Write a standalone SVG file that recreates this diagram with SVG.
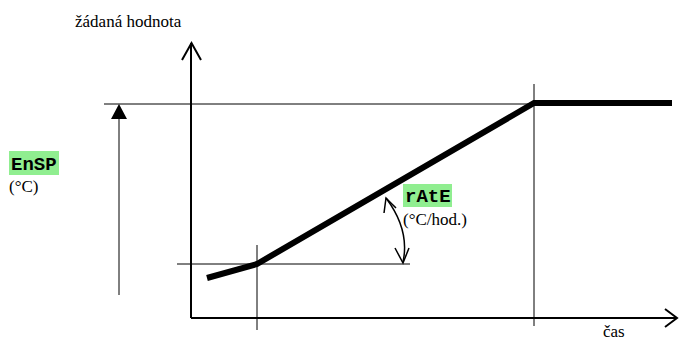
<svg xmlns="http://www.w3.org/2000/svg" width="680" height="340" viewBox="0 0 680 340">
<style>
.t{font-family:"Liberation Serif","Times New Roman",serif;font-size:17px;fill:#000}
.c{font-family:"Liberation Mono","Courier New",monospace;font-size:19px;font-weight:bold;fill:#000}
.thin{stroke:#000;stroke-width:1;fill:none}
.ax{stroke:#000;stroke-width:2;fill:none}
.thick{stroke:#000;stroke-width:6;fill:none;stroke-linejoin:miter}
.hl{fill:#90ee90}
</style>
<defs>
<marker id="open" viewBox="0 0 20 20" refX="12" refY="10" markerWidth="20" markerHeight="20" markerUnits="userSpaceOnUse" orient="auto">
<path d="M2,2 L12,10 L2,18" fill="none" stroke="#000" stroke-width="1.8"/>
</marker>
</defs>
<g id="connectors">
<line class="thin" x1="104" y1="104" x2="534" y2="104"/>
<line class="thin" x1="534" y1="84" x2="534" y2="326"/>
<line class="thin" x1="177" y1="264" x2="410" y2="264"/>
<line class="thin" x1="257" y1="245" x2="257" y2="330"/>
<line class="thin" x1="119" y1="295" x2="119" y2="116"/>
<polygon points="119,104 111,119 127,119" fill="#000"/>
<path class="ax" d="M191,318 V43"/>
<path class="ax" d="M182,60 L191.5,43 L201,60"/>
<path class="ax" d="M191,318 H677"/>
<path class="ax" d="M665,309 L677,318 L665,327"/>
<polyline class="thick" points="207,278 257,264 534,103 672,103"/>
<path d="M386,198 Q410,230 403,262" fill="none" stroke="#000" stroke-width="1.5"/>
<path d="M384,213 L386,198 L396,208" fill="none" stroke="#000" stroke-width="1.5"/>
<path d="M395,248 L403,263 L409,248" fill="none" stroke="#000" stroke-width="1.5"/>
</g>
<g id="label-y"><text class="t" x="75" y="27">žádaná hodnota</text></g>
<g id="label-x"><text class="t" x="603" y="337">čas</text></g>
<g id="ensp">
<rect class="hl" x="9" y="151" width="50" height="24"/>
<text class="c" x="11" y="170">EnSP</text>
<text class="t" x="9" y="192">(°C)</text>
</g>
<g id="rate">
<rect class="hl" x="403" y="184" width="49" height="23"/>
<text class="c" x="405" y="202">rAtE</text>
<text class="t" x="403" y="225">(°C/hod.)</text>
</g>
</svg>
